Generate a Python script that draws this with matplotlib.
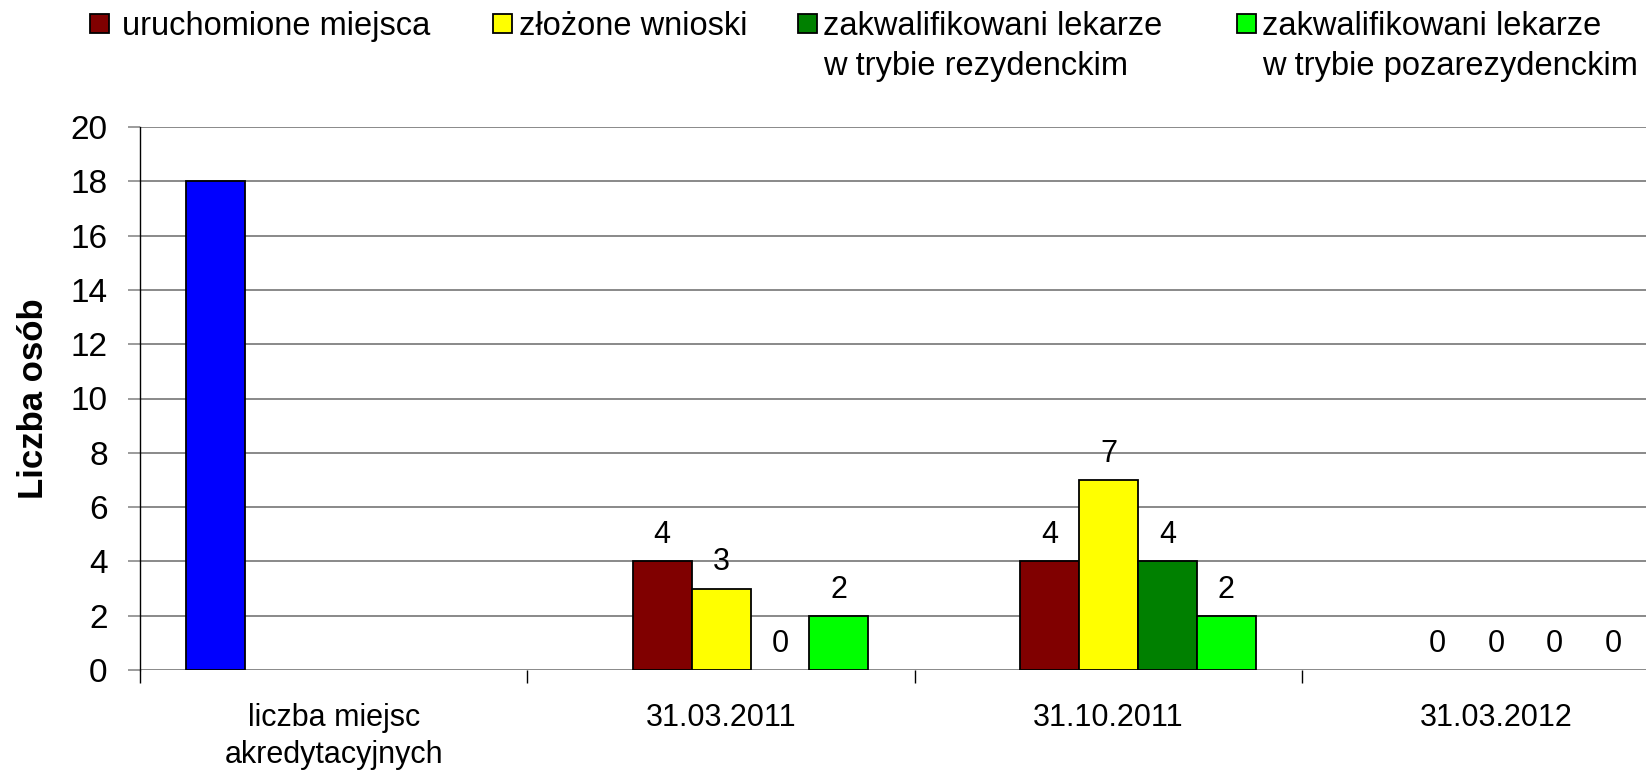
import matplotlib.pyplot as plt
from matplotlib.patches import Rectangle
import numpy as np

plt.rcParams['font.family'] = ['Liberation Sans', 'DejaVu Sans']

# categories and series
categories = ['liczba miejsc\nakredytacyjnych', '31.03.2011', '31.10.2011', '31.03.2012']
miejsca_akredytacyjne = [18, np.nan, np.nan, np.nan]
uruchomione = [np.nan, 4, 4, 0]
zlozone = [np.nan, 3, 7, 0]
rezydenckie = [np.nan, 0, 4, 0]
pozarezydenckie = [np.nan, 2, 2, 0]

series = [miejsca_akredytacyjne, uruchomione, zlozone, rezydenckie, pozarezydenckie]
series_labels = [None, 'uruchomione miejsca', 'złożone wnioski',
                 'zakwalifikowani lekarze\nw trybie rezydenckim',
                 'zakwalifikowani lekarze\nw trybie pozarezydenckim']
colors = ['#0000FF', '#800000', '#FFFF00', '#008000', '#00FF00']

W, H = 1646, 775
fig = plt.figure(figsize=(W / 100, H / 100), dpi=100)
# plot area runs past the right edge, as in the original
ax = fig.add_axes([140 / W, 105 / H, 1549.6 / W, 543 / H])

x = np.arange(len(categories))
w = 0.152
for i, (vals, col) in enumerate(zip(series, colors)):
    pos = x + (i - 2) * w
    # zero-height bars leave no outline
    lw = [0 if v == 0 else 1.3 for v in vals]
    ax.bar(pos, vals, width=w, color=col, edgecolor='black', linewidth=lw, zorder=3)
    if series_labels[i] is None:
        continue
    for px, v in zip(pos, vals):
        if np.isnan(v):
            continue
        ax.annotate(f'{v:g}', (px, v), xytext=(0, 13), textcoords='offset points',
                    ha='center', va='baseline', fontsize=22)

ax.set_xlim(-0.5, len(categories) - 0.5)
ax.set_ylim(0, 20)
ax.set_yticks(range(0, 21, 2))
ax.tick_params(axis='y', labelsize=24, length=8.3, width=1.1, color='#808080', pad=15)
ax.yaxis.grid(True, color='#808080', linewidth=1.3)
ax.set_axisbelow(True)

# category boundaries as major ticks, names as minor ticks in the middle
ax.set_xticks(np.arange(-0.5, len(categories), 1.0))
ax.set_xticklabels([])
ax.tick_params(axis='x', which='major', length=9, width=1, color='black')
ax.set_xticks(x, minor=True)
ax.set_xticklabels(categories, minor=True, fontsize=22, linespacing=1.3)
ax.tick_params(axis='x', which='minor', length=0, pad=24)

for s in ['top', 'right', 'bottom']:
    ax.spines[s].set_visible(False)
ax.spines['left'].set_linewidth(1)

ax.set_ylabel('Liczba osób', fontsize=25, fontweight='bold')
ax.yaxis.set_label_coords(-0.058, 0.5)

# legend laid out like the original: marker at the first line of each label
leg_sq = [90, 493, 798, 1237]
leg_txt = [122, 519, 823, 1262]
for sx, tx, lab, col in zip(leg_sq, leg_txt, series_labels[1:], colors[1:]):
    fig.patches.append(Rectangle((sx / W, 1 - 33 / H), 19 / W, 19 / H,
                                 transform=fig.transFigure, facecolor=col,
                                 edgecolor='black', linewidth=1.3))
    nlines = lab.count('\n') + 1
    # va='baseline' pins the last line, so shift down by the extra lines
    fig.text(tx / W, 1 - (35 + 39.5 * (nlines - 1)) / H, lab, fontsize=23.5,
             va='baseline', ha='left', linespacing=1.35)

fig.savefig('out.png', dpi=100)
